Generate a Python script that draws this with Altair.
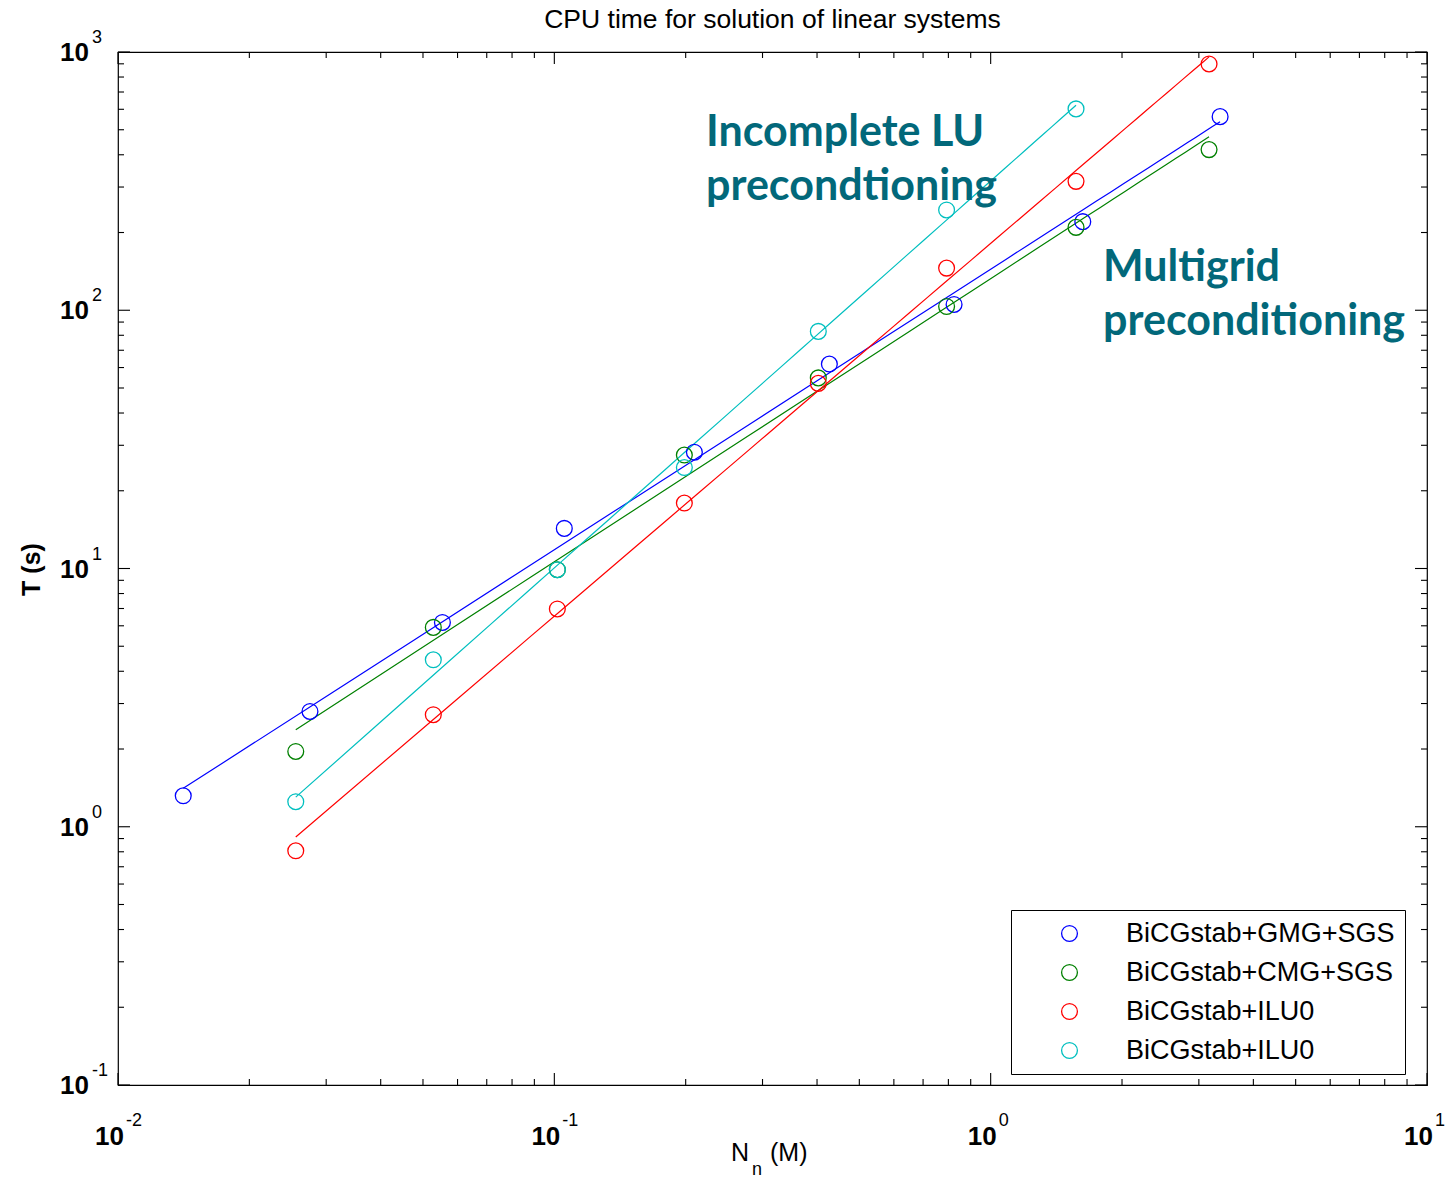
import altair as alt
import pandas as pd

# ---------------- data ----------------
KEYS = ["s1", "s2", "s3", "s4"]
LABELS = ["BiCGstab+GMG+SGS", "BiCGstab+CMG+SGS", "BiCGstab+ILU0", "BiCGstab+ILU0"]
COLORS = ["#0000FF", "#008000", "#FF0000", "#00BFBF"]

N_GMG = [0.01411, 0.02754, 0.0554, 0.1054, 0.2094, 0.4269, 0.8244, 1.626, 3.356]
T_GMG = [1.318, 2.796, 6.18, 14.30, 28.2, 61.9, 105.3, 220.3, 562.0]

N_CMG = [0.02555, 0.0528, 0.1016, 0.1986, 0.4027, 0.7925, 1.569, 3.166]
T_CMG = [1.957, 5.915, 9.89, 27.5, 54.7, 103.4, 209.4, 418.8]

N_ILU_A = [0.02555, 0.0528, 0.1016, 0.1986, 0.4027, 0.7925, 1.569, 3.166]
T_ILU_A = [0.807, 2.716, 6.97, 17.93, 52.1, 145.6, 315.6, 899.0]

N_ILU_B = [0.02555, 0.0528, 0.1016, 0.1986, 0.4027, 0.7925, 1.569]
T_ILU_B = [1.25, 4.43, 9.89, 24.6, 82.8, 244.6, 602.0]

X_MAJOR = [0.01, 0.1, 1, 10]
X_EXP = ["-2", "-1", "0", "1"]
Y_MAJOR = [0.1, 1, 10, 100, 1000]
Y_EXP = ["-1", "0", "1", "2", "3"]
X_MINOR = [k * 10.0 ** d for d in (-2, -1, 0) for k in range(2, 10)]
Y_MINOR = [k * 10.0 ** d for d in (-1, 0, 1, 2) for k in range(2, 10)]

ANN_TEXT = ["Incomplete LU\nprecondtioning", "Multigrid\npreconditioning"]
ANN_N = [0.2227, 1.81]
ANN_T = [434.0, 130.2]

TITLE = "CPU time for solution of linear systems"
YTITLE = "T (s)"

# ---------------- tables ----------------
rows = []
for key, ns, ts in zip(KEYS, [N_GMG, N_CMG, N_ILU_A, N_ILU_B], [T_GMG, T_CMG, T_ILU_A, T_ILU_B]):
    for n, t in zip(ns, ts):
        rows.append({"series": key, "N": n, "T": t})
df = pd.DataFrame(rows)

W, H = 1309, 1033
FONT = "Liberation Sans"

xs = alt.Scale(type="log", domain=[0.01, 10], nice=False)
ys = alt.Scale(type="log", domain=[0.1, 1000], nice=False)
cs = alt.Scale(domain=KEYS, range=COLORS)

label_expr = " : ".join(
    f"datum.label == '{k}' ? '{l}'" for k, l in zip(KEYS[:-1], LABELS[:-1])
) + f" : '{LABELS[-1]}'"

lines = alt.Chart(df).transform_regression(
    "N", "T", groupby=["series"], method="pow"
).mark_line(strokeWidth=1.2).encode(
    x=alt.X("N:Q", scale=xs, axis=None),
    y=alt.Y("T:Q", scale=ys, axis=None),
    color=alt.Color("series:N", scale=cs, legend=None),
)

points = alt.Chart(df).mark_point(
    shape="circle", filled=False, size=250, strokeWidth=1.3, opacity=1
).encode(
    x=alt.X("N:Q", scale=xs, axis=None),
    y=alt.Y("T:Q", scale=ys, axis=None),
    color=alt.Color(
        "series:N",
        scale=cs,
        legend=alt.Legend(
            orient="none",
            legendX=893,
            legendY=858,
            title=None,
            strokeColor="black",
            fillColor="white",
            padding=10,
            symbolType="circle",
            symbolSize=250,
            symbolStrokeWidth=1.3,
            symbolOffset=35,
            labelOffset=43,
            labelFont=FONT,
            labelFontSize=27,
            labelLimit=500,
            labelColor="black",
            rowPadding=11,
            labelExpr=label_expr,
        ),
    ),
)

# ---------------- inward ticks on all four sides ----------------
tick_layers = []
for vals, ln in [(X_MAJOR, 12), (X_MINOR, 6)]:
    d = pd.DataFrame({"v": vals})
    tick_layers.append(alt.Chart(d).mark_rule(color="black", strokeWidth=1.1).encode(
        x=alt.X("v:Q", scale=xs, axis=None), y=alt.value(H), y2=alt.value(H - ln)))
    tick_layers.append(alt.Chart(d).mark_rule(color="black", strokeWidth=1.1).encode(
        x=alt.X("v:Q", scale=xs, axis=None), y=alt.value(0), y2=alt.value(ln)))
for vals, ln in [(Y_MAJOR, 12), (Y_MINOR, 6)]:
    d = pd.DataFrame({"v": vals})
    tick_layers.append(alt.Chart(d).mark_rule(color="black", strokeWidth=1.1).encode(
        y=alt.Y("v:Q", scale=ys, axis=None), x=alt.value(0), x2=alt.value(ln)))
    tick_layers.append(alt.Chart(d).mark_rule(color="black", strokeWidth=1.1).encode(
        y=alt.Y("v:Q", scale=ys, axis=None), x=alt.value(W), x2=alt.value(W - ln)))

# ---------------- tick labels 10^k ----------------
xl = pd.DataFrame({"v": X_MAJOR, "e": X_EXP})
yl = pd.DataFrame({"v": Y_MAJOR, "e": Y_EXP})

x_base = alt.Chart(xl).mark_text(
    text="10", align="right", baseline="alphabetic", dx=6, dy=60,
    font=FONT, fontSize=26, fontWeight="bold", color="black"
).encode(x=alt.X("v:Q", scale=xs, axis=None), y=alt.value(H))
x_exp = alt.Chart(xl).mark_text(
    align="left", baseline="alphabetic", dx=8, dy=41,
    font=FONT, fontSize=18, color="black"
).encode(x=alt.X("v:Q", scale=xs, axis=None), y=alt.value(H), text="e:N")

y_base = alt.Chart(yl).mark_text(
    text="10", align="right", baseline="middle", dx=-29, dy=1,
    font=FONT, fontSize=26, fontWeight="bold", color="black"
).encode(y=alt.Y("v:Q", scale=ys, axis=None), x=alt.value(0))
y_exp = alt.Chart(yl).mark_text(
    align="left", baseline="middle", dx=-26, dy=-14,
    font=FONT, fontSize=18, color="black"
).encode(y=alt.Y("v:Q", scale=ys, axis=None), x=alt.value(0), text="e:N")

# ---------------- titles ----------------
title = alt.Chart(pd.DataFrame({"t": [TITLE]})).mark_text(
    align="center", baseline="alphabetic", font=FONT, fontSize=26.5, color="black"
).encode(text="t:N", x=alt.value(W / 2), y=alt.value(-24))

ytitle = alt.Chart(pd.DataFrame({"t": [YTITLE]})).mark_text(
    angle=270, align="center", baseline="alphabetic",
    font=FONT, fontSize=25, fontWeight="bold", color="black"
).encode(text="t:N", x=alt.value(-78), y=alt.value(H / 2 + 1))

xt_N = alt.Chart(pd.DataFrame({"t": ["N"]})).mark_text(
    align="left", baseline="alphabetic", font=FONT, fontSize=25, color="black"
).encode(text="t:N", x=alt.value(613), y=alt.value(1109))
xt_n = alt.Chart(pd.DataFrame({"t": ["n"]})).mark_text(
    align="left", baseline="alphabetic", font=FONT, fontSize=18, color="black"
).encode(text="t:N", x=alt.value(634), y=alt.value(1123))
xt_M = alt.Chart(pd.DataFrame({"t": ["(M)"]})).mark_text(
    align="left", baseline="alphabetic", font=FONT, fontSize=25, color="black"
).encode(text="t:N", x=alt.value(652), y=alt.value(1109))

# ---------------- annotations ----------------
ann = alt.Chart(pd.DataFrame({"N": ANN_N, "T": ANN_T, "txt": ANN_TEXT})).mark_text(
    align="left", baseline="alphabetic", lineBreak="\n", lineHeight=54,
    font="Lato", fontSize=43, fontWeight="bold", color="#02687A"
).encode(
    x=alt.X("N:Q", scale=xs, axis=None),
    y=alt.Y("T:Q", scale=ys, axis=None),
    text="txt:N",
)

others = alt.layer(
    *tick_layers, points, x_base, x_exp, y_base, y_exp,
    title, ytitle, xt_N, xt_n, xt_M, ann
)

chart = alt.layer(lines, others).resolve_scale(color="independent").properties(
    width=W,
    height=H,
    padding={"left": 118, "top": 52, "right": 26, "bottom": 94},
    autosize=alt.AutoSizeParams(type="none"),
    background="white",
).configure_view(stroke="black", strokeWidth=1.2)

chart.save("out.html", embed_options={"renderer": "svg", "actions": False})
